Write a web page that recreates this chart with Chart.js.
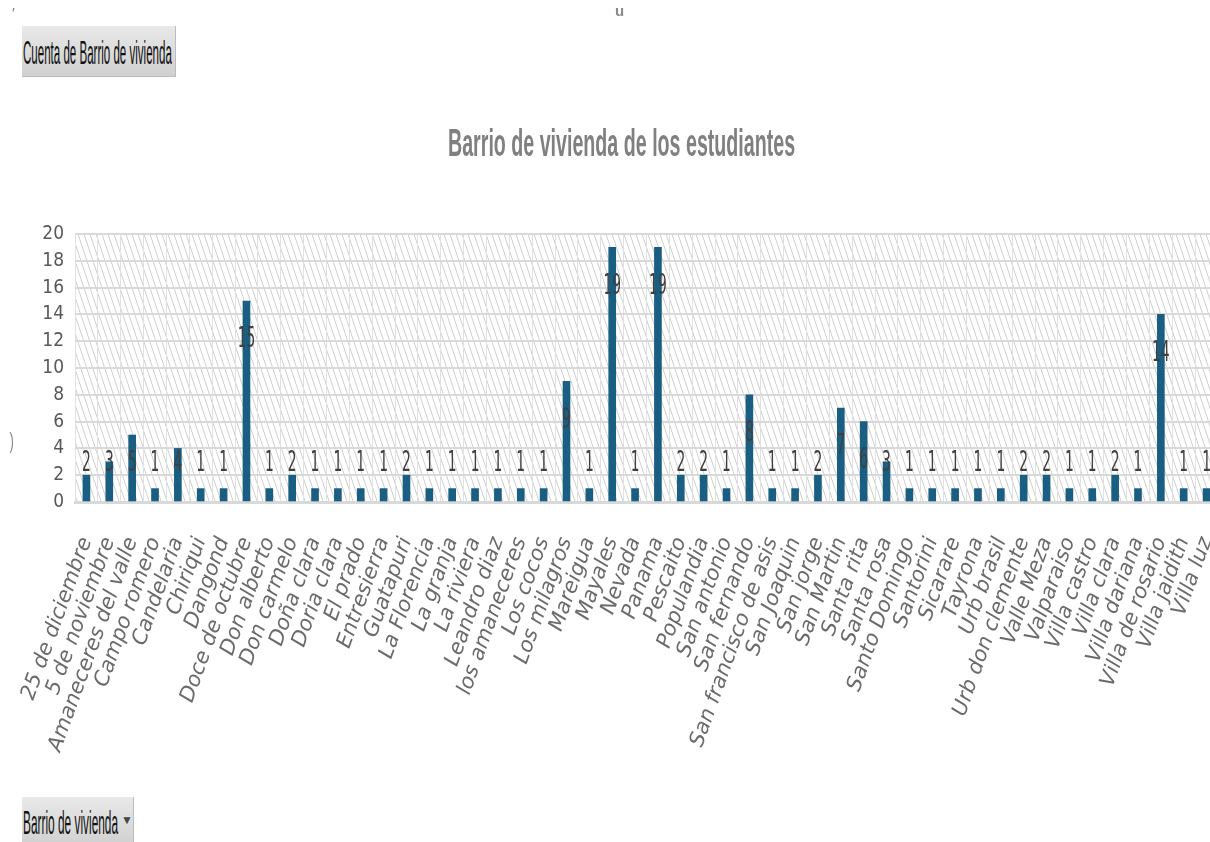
<!DOCTYPE html>
<html>
<head>
<meta charset="utf-8">
<script src="https://cdn.jsdelivr.net/npm/chart.js@4.4.1/dist/chart.umd.min.js"></script>
<style>
body { margin: 0; width: 1210px; height: 842px; overflow: hidden; background: #fff; position: relative; font-family: "Liberation Sans", Arial, sans-serif; }
#wrap { position: absolute; left: 0; top: 0; width: 1230px; height: 842px; }
.btn { position: absolute; background: linear-gradient(#e9e9e9, #d0d0d0); border-right: 1px solid #bcbcbc; border-bottom: 1px solid #bcbcbc; overflow: hidden; }
.fit { position: absolute; white-space: nowrap; transform-origin: 0 0; }
.mark { position: absolute; color: #8a8a8a; }
</style>
</head>
<body>
<div id="wrap"><canvas id="barrioChart" width="1230" height="842"></canvas></div>

<div class="mark" style="left:11px;top:6px;font-size:16px;font-style:italic;">'</div>
<div class="mark" style="left:615px;top:2px;font-size:15px;font-weight:bold;">u</div>
<div class="mark" style="left:8px;top:428px;font-size:22px;transform:scaleX(0.6);">)</div>

<div class="btn" style="left:22px;top:26px;width:153px;height:50px;">
  <span class="fit" id="btnCuenta" style="left:1px;top:9px;font-size:34px;line-height:34px;color:#111;">Cuenta de Barrio de vivienda</span>
</div>

<div class="fit" id="titulo" style="left:448px;top:123px;font-size:39px;line-height:39px;font-weight:bold;color:#808080;">Barrio de vivienda de los estudiantes</div>

<div class="btn" style="left:22px;top:797px;width:111px;height:50px;">
  <span class="fit" id="btnBarrio" style="left:1px;top:9px;font-size:33px;line-height:33px;color:#111;">Barrio de vivienda</span>
  <span style="position:absolute;left:99px;top:16px;font-size:12px;color:#444;">▼</span>
</div>

<script>
// barrios (eje X) y cantidad de estudiantes por barrio
const barrios = [
    "25 de diciembre", "5 de noviembre", "Amaneceres del valle", "Campo romero", "Candelaria",
    "Chiriqui", "Dangond", "Doce de octubre", "Don alberto", "Don carmelo",
    "Doña clara", "Doria clara", "El prado", "Entresierra", "Guatapuri",
    "La Florencia", "La granja", "La riviera", "Leandro diaz", "los amaneceres",
    "Los cocos", "Los milagros", "Mareigua", "Mayales", "Nevada",
    "Panama", "Pescaito", "Populandia", "San antonio", "San fernando",
    "San francisco de asis", "San Joaquin", "San jorge", "San Martin", "Santa rita",
    "Santa rosa", "Santo Domingo", "Santorini", "Sicarare", "Tayrona",
    "Urb brasil", "Urb don clemente", "Valle Meza", "Valparaiso", "Villa castro",
    "Villa clara", "Villa dariana", "Villa de rosario", "Villa jaidith", "Villa luz"
];
const estudiantes = [
    2, 3, 5, 1, 4,
    1, 1, 15, 1, 2,
    1, 1, 1, 1, 2,
    1, 1, 1, 1, 1,
    1, 9, 1, 19, 1,
    19, 2, 2, 1, 8,
    1, 1, 2, 7, 6,
    3, 1, 1, 1, 1,
    1, 2, 2, 1, 1,
    2, 1, 14, 1, 1
];
const yMin = 0;
const yMax = 20;
const yStep = 2;

const BAR_COLOR = "#1a5e82";

// squeeze the html texts to the widths seen in the picture
function fitWidth(id, w) {
    let el = document.getElementById(id);
    el.style.transform = "scaleX(" + (w / el.offsetWidth) + ")";
}
fitWidth("titulo", 347);
fitWidth("btnCuenta", 149);
fitWidth("btnBarrio", 95);

// diagonal hatch behind the plot area
let tile = document.createElement("canvas");
tile.width = 6;
tile.height = 18;
let t = tile.getContext("2d");
t.strokeStyle = "#cfcfcf";
t.lineWidth = 1;
for (let k = -1; k <= 1; k++) {
    t.beginPath();
    t.moveTo(k * 6 - 1, -3);
    t.lineTo(k * 6 + 7, 21);
    t.stroke();
}

const hatchPlugin = {
    id: "hatch",
    beforeDraw(chart) {
        let a = chart.chartArea;
        let c = chart.ctx;
        c.save();
        c.fillStyle = c.createPattern(tile, "repeat");
        c.fillRect(a.left, a.top, a.right - a.left, a.bottom - a.top);
        c.restore();
    }
};

// value labels, drawn a little below the bar top (as the original does)
const valuePlugin = {
    id: "valores",
    afterDatasetsDraw(chart) {
        let c = chart.ctx;
        let meta = chart.getDatasetMeta(0);
        let y = chart.scales.y;
        c.save();
        c.font = '28px "DejaVu Sans Condensed", "DejaVu Sans", sans-serif';
        c.fillStyle = "#404040";
        c.textAlign = "center";
        c.textBaseline = "middle";
        estudiantes.forEach((v, i) => {
            let py = y.getPixelForValue(Math.max(v - 2.9, 2.85));
            c.save();
            c.translate(meta.data[i].x, py);
            c.scale(0.55, 1);
            c.fillText(String(v), 0, 0);
            c.restore();
        });
        c.restore();
    }
};

let ctx = document.getElementById("barrioChart").getContext("2d");
let chart = new Chart(ctx, {
    type: "bar",
    data: {
        labels: barrios,
        datasets: [{
            label: "Cuenta de Barrio de vivienda",
            data: estudiantes,
            backgroundColor: BAR_COLOR,
            barThickness: 7
        }]
    },
    options: {
        responsive: false,
        animation: false,
        devicePixelRatio: 1,
        layout: { padding: { top: 234, right: 12, left: 0, bottom: 0 } },
        plugins: {
            legend: { display: false },
            tooltip: { enabled: false }
        },
        scales: {
            x: {
                grid: { color: "#e2e2e2", lineWidth: 1, drawTicks: false },
                border: { color: "#d9d9d9", width: 3 },
                ticks: {
                    autoSkip: false,
                    minRotation: 70,
                    maxRotation: 70,
                    padding: 32,
                    color: "#6b6b6b",
                    font: { family: '"DejaVu Sans", sans-serif', style: "italic", size: 21 }
                },
                afterFit: s => {
                    s.height = 340;
                    // labels may hang over the y axis; don't let them push the plot
                    s.paddingLeft = 0;
                    s.paddingRight = 0;
                }
            },
            y: {
                min: yMin,
                max: yMax,
                ticks: {
                    stepSize: yStep,
                    autoSkip: false,
                    padding: 11,
                    color: "#595959",
                    font: { family: '"DejaVu Sans Condensed", "Liberation Sans Narrow", sans-serif', size: 19 }
                },
                grid: { color: "#d9d9d9", lineWidth: 2, drawTicks: false },
                border: { display: false },
                afterFit: s => { s.width = 75; }
            }
        }
    },
    plugins: [hatchPlugin, valuePlugin]
});
</script>
</body>
</html>
